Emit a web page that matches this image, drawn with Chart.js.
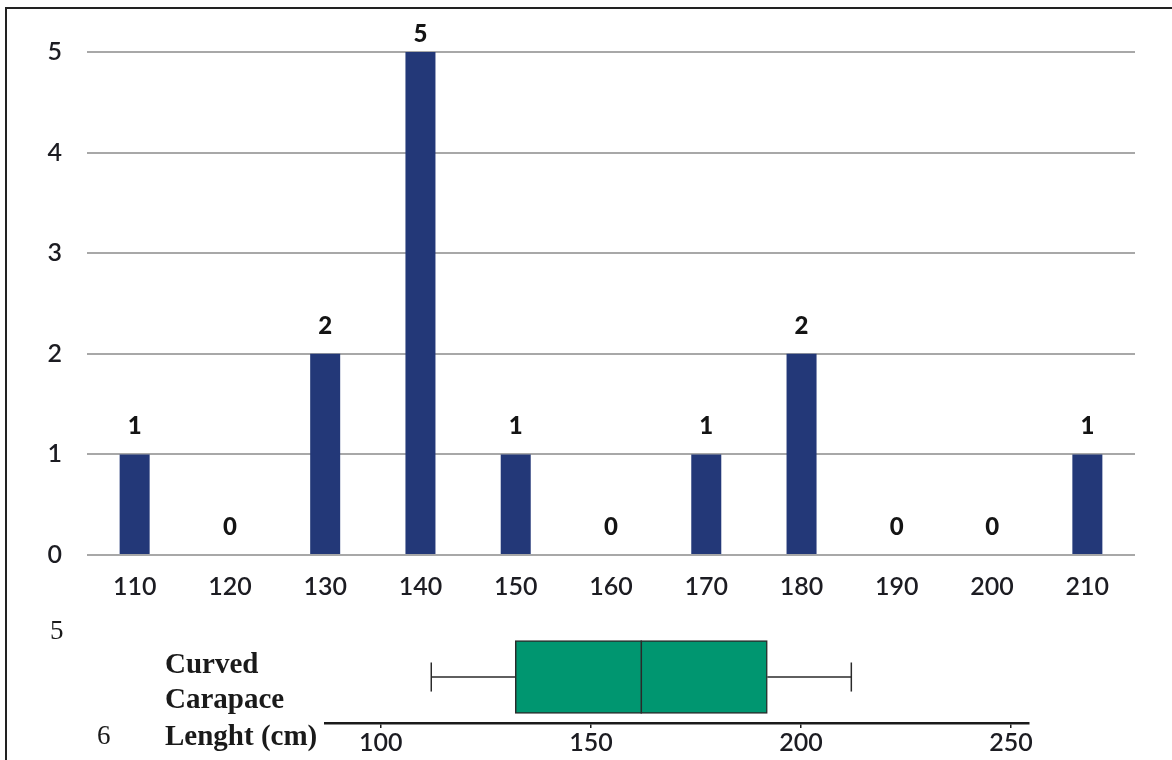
<!DOCTYPE html>
<html>
<head>
<meta charset="utf-8">
<script src="https://cdn.jsdelivr.net/npm/chart.js@4/dist/chart.umd.min.js"></script>
<style>
  html, body { margin: 0; padding: 0; background: #ffffff; }
  body { width: 1172px; height: 760px; position: relative; overflow: hidden; }
  #frame { position: absolute; left: 5px; top: 7px; width: 1300px; height: 900px;
           border-top: 2px solid #222; border-left: 2px solid #222; }
  #histWrap { position: absolute; left: 0; top: 0; width: 1172px; height: 620px; }
  #boxWrap { position: absolute; left: 0; top: 620px; width: 1172px; height: 140px; }
  .lineNo { position: absolute; font-family: "Liberation Serif", "Times New Roman", serif;
            font-size: 27px; line-height: 27px; color: #1a1a1a; }
  .axisName { position: absolute; left: 165px; font-family: "Liberation Serif", "Times New Roman", serif;
              font-weight: bold; font-size: 29px; line-height: 29px; color: #1a1a1a; white-space: nowrap; }
</style>
</head>
<body>
<div id="frame"></div>
<div id="histWrap"><canvas id="hist" width="1172" height="620"></canvas></div>
<div id="boxWrap"><canvas id="box" width="1172" height="140"></canvas></div>
<div class="lineNo" style="left:50px; top:617px;">5</div>
<div class="lineNo" style="left:97px; top:722px;">6</div>
<div class="axisName" style="top:649px;">Curved</div>
<div class="axisName" style="top:684px;">Carapace</div>
<div class="axisName" style="top:721px;">Lenght (cm)</div>
<script>
// Size classes (cm) and number of turtles in each class
const binLabels = ['110', '120', '130', '140', '150', '160', '170', '180', '190', '200', '210'];
const binCounts = [1, 0, 2, 5, 1, 0, 1, 2, 0, 0, 1];
const countTicks = [0, 1, 2, 3, 4, 5];

// Five-number summary of curved carapace length: min, Q1, median, Q3, max
const boxSummary = [112, 132, 162, 192, 212];
const boxTicks = [100, 150, 200, 250];

const tickFont = { family: 'Lato, "Open Sans", sans-serif', size: 25, weight: 600 };
const inkColor = '#1c1c22';

Chart.defaults.animation = false;
Chart.defaults.plugins.legend.display = false;
Chart.defaults.plugins.tooltip.enabled = false;

// Count label above every bar
const barValues = {
  id: 'barValues',
  afterDatasetsDraw(chart) {
    const ctx = chart.ctx;
    const meta = chart.getDatasetMeta(0);
    ctx.save();
    ctx.font = '900 24px Lato, "Open Sans", sans-serif';
    ctx.fillStyle = '#141414';
    ctx.textAlign = 'center';
    ctx.textBaseline = 'middle';
    meta.data.forEach((bar, i) => {
      const y = Math.max(bar.y - 28, chart.chartArea.top - 18);
      ctx.fillText(String(chart.data.datasets[0].data[i]), bar.x, y);
    });
    ctx.restore();
  }
};

new Chart(document.getElementById('hist'), {
  type: 'bar',
  data: {
    labels: binLabels,
    datasets: [{
      data: binCounts,
      backgroundColor: '#233878',
      borderWidth: 0,
      categoryPercentage: 1,
      barPercentage: 0.315
    }]
  },
  options: {
    responsive: false,
    layout: { padding: { left: 0, top: 52, right: 37, bottom: 0 } },
    scales: {
      x: {
        grid: { display: false },
        border: { display: false },
        ticks: { font: tickFont, color: inkColor, padding: 9, maxRotation: 0 },
        afterFit(scale) { scale.height = 65; }
      },
      y: {
        min: countTicks[0],
        max: countTicks[countTicks.length - 1],
        ticks: { stepSize: 1, font: tickFont, color: inkColor, padding: 25 },
        grid: { color: '#a8a8a8', lineWidth: 2, drawTicks: false },
        border: { display: false },
        afterBuildTicks(scale) { scale.ticks = countTicks.map(v => ({ value: v })); },
        afterFit(scale) { scale.width = 87; }
      }
    }
  },
  plugins: [barValues]
});

// Box plot: vertical placement of the box within the strip (style only)
const ROW = 0.554;      // centre line of the box
const CAP = 0.175;      // half-height of the whisker caps
const HALF = 0.44;      // half-height of the box (median line length)
const lineStyle = { type: 'line', borderColor: '#2a2a2a', borderWidth: 1.5, pointRadius: 0, fill: false, order: 1 };
const [wMin, q1, med, q3, wMax] = boxSummary;

new Chart(document.getElementById('box'), {
  type: 'bar',
  data: {
    datasets: [
      {
        type: 'bar',
        indexAxis: 'y',
        data: [{ x: [q1, q3], y: ROW }],
        backgroundColor: '#009670',
        borderColor: '#2a2a2a',
        borderWidth: 1.5,
        borderSkipped: false,
        barThickness: 73,
        order: 2
      },
      Object.assign({ data: [{ x: med, y: ROW - HALF }, { x: med, y: ROW + HALF }] }, lineStyle),
      Object.assign({ data: [{ x: wMin, y: ROW }, { x: q1, y: ROW }] }, lineStyle),
      Object.assign({ data: [{ x: q3, y: ROW }, { x: wMax, y: ROW }] }, lineStyle),
      Object.assign({ data: [{ x: wMin, y: ROW - CAP }, { x: wMin, y: ROW + CAP }] }, lineStyle),
      Object.assign({ data: [{ x: wMax, y: ROW - CAP }, { x: wMax, y: ROW + CAP }] }, lineStyle)
    ]
  },
  options: {
    responsive: false,
    layout: { padding: { left: 325, top: 20, right: 143, bottom: 0 } },
    scales: {
      x: {
        type: 'linear',
        offset: false,
        min: 86.7,
        max: 254.3,
        grid: { offset: false, drawOnChartArea: false, drawTicks: true, tickLength: 5, color: '#1a1a1a', lineWidth: 1.5 },
        border: { display: true, color: '#1a1a1a', width: 2.5 },
        ticks: { font: tickFont, color: inkColor, padding: 0, maxRotation: 0 },
        afterBuildTicks(scale) { scale.ticks = boxTicks.map(v => ({ value: v })); },
        afterFit(scale) { scale.height = 37; }
      },
      y: {
        type: 'linear',
        offset: false,
        min: 0,
        max: 1,
        display: false
      }
    }
  }
});
</script>
</body>
</html>
